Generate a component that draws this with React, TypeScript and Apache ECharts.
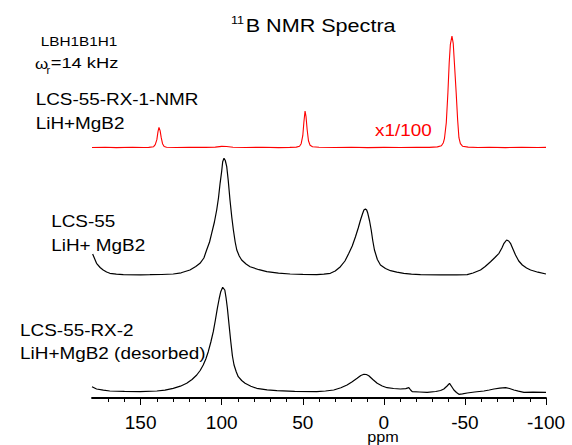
import React, { useEffect, useRef } from "react";
import * as echarts from "echarts";

// axis ticks (ppm)
const majorTicks = [150, 100, 50, 0, -50, -100];
const minorTicks = [170, 160, 140, 130, 120, 110, 90, 80, 70, 60, 40, 30, 20, 10, -10, -20, -30, -40, -60, -70, -80, -90];

// vertical offsets of each trace (display units)
const redOffset = 250.3;
const midOffset = 123;
const lowOffset = 6;

// LCS-55-RX-1-NMR (x1/100) : [ppm, intensity]
const redSpectrum: number[][] = [
  [180, 0.2], [172, 0.5], [165, 0.1], [155, 0.4], [148, 0.2], [145, 0.3], [142, 1], [141, 3], [140, 8],
  [139.3, 16], [138.7, 20.4], [138, 17], [137.3, 10], [136.5, 4], [135.5, 1.2], [134, 0.5], [128, 0.2],
  [120, 0.4], [110, 0.3], [104, 0.6], [100, 1.3], [97, 1.2], [93, 0.5], [85, 0.2], [75, 0.4], [65, 0.1],
  [58, 0.3], [54, 0.6], [52, 1.5], [51, 4], [50, 12], [49.3, 26], [48.6, 36.7], [48, 31], [47.3, 18],
  [46.5, 7], [45.5, 2.5], [44, 1], [40, 0.4], [30, 0.2], [20, 0.4], [10, 0.1], [0, 0.3], [-10, 0.2],
  [-20, 0.4], [-28, 0.3], [-33, 0.8], [-35.5, 2], [-36.7, 5], [-37.4, 9.4], [-38.5, 25], [-39.5, 55],
  [-40.3, 85], [-41, 103], [-42, 111.7], [-42.8, 104], [-43.5, 85], [-44.6, 55], [-45.5, 28], [-46.3, 10],
  [-47.2, 4], [-48.5, 1.5], [-52, 0.6], [-58, 0.2], [-65, 0.4], [-75, 0.1], [-85, 0.3], [-95, 0.2], [-100, 0.3],
];

// LCS-55 LiH+ MgB2
const midSpectrum: number[][] = [
  [179.6, 21], [177.2, 11.7], [175, 7.5], [173.1, 5], [171, 3], [169, 1.7], [165, 0.8], [160.7, 0.3],
  [150, 0.2], [144.3, 0.3], [137, 0.5], [129.9, 1], [125, 2.2], [119.6, 5], [116, 8.5], [113.4, 11.7],
  [111, 17], [109.3, 25], [107.5, 33], [106.2, 41.7], [104.5, 53], [103.1, 65], [102, 77], [101, 91.7],
  [100, 104], [99.4, 113.3], [98.6, 116.7], [97.8, 114.5], [96.9, 108.3], [96, 95], [94.9, 75], [93.8, 58],
  [92.8, 45], [91.7, 33], [90.7, 25], [89.2, 19], [87.7, 15], [85, 11], [82.5, 8.3], [77, 5.3], [72.2, 3.3],
  [65, 1.8], [57.8, 1], [50, 0.6], [41.4, 0.3], [37, 0.8], [33, 1.7], [30, 4], [26.8, 8.3], [24, 14],
  [21.6, 21.7], [19.5, 29], [17.5, 38.3], [15.8, 47], [14.4, 55], [13.2, 61], [12.3, 65], [11.4, 66],
  [10.6, 65], [9.9, 61.7], [8.8, 54], [7.8, 45], [6.8, 34], [5.8, 25], [4, 15.5], [2.1, 10], [-1, 6.5],
  [-4.1, 4.3], [-8, 2.8], [-12.3, 1.7], [-17, 0.8], [-22.6, 0.3], [-35, 0.2], [-45, 0.2], [-51.4, 0.3],
  [-55, 2], [-59.6, 5], [-62.5, 8.5], [-65.8, 13.3], [-68.5, 17.5], [-71, 21.7], [-72.8, 27], [-74.1, 31.7],
  [-75.7, 35], [-77, 34], [-78.1, 31.7], [-79.6, 26], [-81.2, 20], [-83.2, 14], [-85.4, 10], [-88, 7],
  [-90.5, 5], [-95, 2.8], [-100, 1],
];

// LCS-55-RX-2 LiH+MgB2 (desorbed)
const lowSpectrum: number[][] = [
  [180, 5.3], [177.2, 3], [173, 1.8], [169, 1], [160, 0.6], [150.4, 0.3], [140, 1], [135, 1.8], [129.9, 3.7],
  [125.5, 5.8], [121.6, 8.7], [118.3, 12.5], [115.4, 17], [113.3, 21.5], [111.4, 27], [109.8, 33],
  [108.3, 40.3], [106.7, 50], [105.2, 60.3], [103.9, 72], [102.7, 83.7], [101.6, 93], [100.6, 100.3],
  [99.4, 104.7], [98.1, 102], [97.3, 94], [96.5, 83.7], [95.4, 66], [94.4, 50.3], [93.4, 36], [92.4, 27],
  [91, 20], [89.8, 15.3], [87.7, 11.5], [85.6, 8.7], [82, 5.8], [78.4, 3.7], [72, 2.2], [66, 1.3], [55, 0.6],
  [41.4, 0.3], [36, 1], [30.9, 2], [26.5, 4.2], [22.7, 7], [19.5, 10.3], [16.5, 13.7], [14.2, 16.5],
  [12.3, 17.7], [10.8, 17.5], [9.3, 16.3], [6.8, 12.5], [4.1, 8.7], [1, 6], [-2, 4.3], [-6, 3.5],
  [-10.2, 3], [-13.5, 3.4], [-15.4, 4.3], [-16.5, 2], [-17.5, 0.3], [-22, 0], [-26.7, -0.3], [-32, 0.5],
  [-35, 1.5], [-37, 3], [-39, 6], [-40.5, 8.7], [-41.8, 5.5], [-43.2, 2], [-44.8, -0.5], [-46.3, -2.3],
  [-48.5, -1.8], [-51.4, -1], [-56, 0], [-61.7, 1], [-65, 2], [-67.9, 3], [-71.5, 3.8], [-75.1, 4.3],
  [-77.5, 3.5], [-80.2, 2], [-83, 0.8], [-86.4, -0.3], [-92, -0.2], [-100, -0.3],
];

const FONT = "Arial, 'Liberation Sans', Helvetica, sans-serif";

function label(text: string, x: number, baseline: number, fs: number, fill = "#000", sx = 1.16, align = "left") {
  return {
    type: "text",
    x,
    y: baseline - 0.35 * fs,
    scaleX: sx,
    silent: true,
    style: {
      text,
      fontSize: fs,
      fontFamily: FONT,
      fill,
      align,
      textAlign: align,
      verticalAlign: "middle",
      textVerticalAlign: "middle",
    },
  };
}

function shift(data: number[][], off: number) {
  return data.map((d) => [d[0], d[1] + off]);
}

export default function App() {
  const ref = useRef<HTMLDivElement>(null);
  useEffect(() => {
    if (!ref.current) return;
    const chart = echarts.init(ref.current, undefined, { renderer: "svg" });
    const gridBox = { left: 92, right: 26, top: 30, bottom: 47 };
    chart.setOption({
      animation: false,
      backgroundColor: "#fff",
      grid: [gridBox, gridBox],
      xAxis: [
        {
          type: "value",
          gridIndex: 0,
          min: -100,
          max: 180,
          inverse: true,
          axisLine: { show: true, onZero: false, lineStyle: { color: "#000", width: 1.8 } },
          axisTick: { show: true, length: 7, customValues: majorTicks, lineStyle: { color: "#000", width: 1 } },
          axisLabel: {
            show: true,
            customValues: majorTicks,
            margin: 15,
            fontSize: 19,
            fontFamily: FONT,
            color: "#000",
          },
          splitLine: { show: false },
        },
        {
          type: "value",
          gridIndex: 1,
          min: -100,
          max: 180,
          inverse: true,
          axisLine: { show: false },
          axisTick: { show: true, length: 4, customValues: minorTicks, lineStyle: { color: "#000", width: 1 } },
          axisLabel: { show: false },
          splitLine: { show: false },
        },
      ],
      yAxis: [
        { type: "value", gridIndex: 0, min: 0, max: 368, show: false },
        { type: "value", gridIndex: 1, min: 0, max: 368, show: false },
      ],
      series: [
        {
          type: "line",
          xAxisIndex: 0,
          yAxisIndex: 0,
          data: shift(redSpectrum, redOffset),
          showSymbol: false,
          symbol: "none",
          clip: false,
          lineStyle: { color: "#ff0000", width: 1.1 },
        },
        {
          type: "line",
          xAxisIndex: 0,
          yAxisIndex: 0,
          data: shift(midSpectrum, midOffset),
          showSymbol: false,
          symbol: "none",
          clip: false,
          lineStyle: { color: "#000", width: 1.2 },
        },
        {
          type: "line",
          xAxisIndex: 0,
          yAxisIndex: 0,
          data: shift(lowSpectrum, lowOffset),
          showSymbol: false,
          symbol: "none",
          clip: false,
          lineStyle: { color: "#000", width: 1.2 },
        },
      ],
      graphic: [
        label("11", 231, 24, 11.5, "#000", 1.1),
        label("B NMR Spectra", 245.7, 32, 18.3, "#000", 1.18),
        label("LBH1B1H1", 40.7, 45.7, 13, "#000", 1.18),
        label("ω", 35, 68.3, 15.4, "#000", 1.1),
        label("r", 46.5, 73.5, 10, "#000", 1.1),
        label("=14 kHz", 50.7, 68.3, 15.4, "#000", 1.19),
        label("LCS-55-RX-1-NMR", 35.7, 105, 16.3),
        label("LiH+MgB2", 35.7, 129, 16.3),
        label("x1/100", 375, 136, 16.3, "#ff0000"),
        label("LCS-55", 51.2, 227.3, 16.3),
        label("LiH+ MgB2", 51.2, 251, 16.3),
        label("LCS-55-RX-2", 20.1, 335.7, 16.3),
        label("LiH+MgB2 (desorbed)", 20.1, 359, 16.3),
        label("ppm", 383, 442, 15, "#000", 1.08, "center"),
      ],
    });
    return () => chart.dispose();
  }, []);
  return (
    <div
      ref={ref}
      style={{ position: "fixed", left: 0, top: 0, width: 572, height: 445, background: "#fff" }}
    />
  );
}
